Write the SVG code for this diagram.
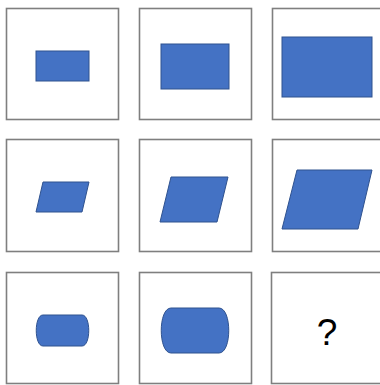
<svg xmlns="http://www.w3.org/2000/svg" width="380" height="385" viewBox="0 0 380 385">
<style>
.box{fill:#ffffff;stroke:#7f7f7f;stroke-width:1.6}
.shape{fill:#4472c4;stroke:#2f528f;stroke-width:1}
.q{font-family:"Liberation Sans",Arial,sans-serif;font-size:37px;fill:#000000;text-anchor:middle}
</style>
<rect x="0" y="0" width="380" height="385" fill="#ffffff"/>
<g id="cell-r1c1">
<rect class="box" x="6.5" y="8.5" width="112" height="111"/>
<rect class="shape" x="36" y="51" width="53" height="30"/>
</g>
<g id="cell-r1c2">
<rect class="box" x="139.5" y="8.5" width="112" height="111"/>
<rect class="shape" x="161" y="44" width="68" height="45"/>
</g>
<g id="cell-r1c3">
<rect class="box" x="272.5" y="8.5" width="112" height="111"/>
<rect class="shape" x="282" y="37" width="90" height="60"/>
</g>
<g id="cell-r2c1">
<rect class="box" x="6.5" y="139.5" width="112" height="112"/>
<polygon class="shape" points="43,182 89,182 82,212 36,212"/>
</g>
<g id="cell-r2c2">
<rect class="box" x="139.5" y="139.5" width="112" height="112"/>
<polygon class="shape" points="171,177 228,177 217,222 160,222"/>
</g>
<g id="cell-r2c3">
<rect class="box" x="272.5" y="139.5" width="112" height="112"/>
<polygon class="shape" points="297,170 372,170 358,229 282,229"/>
</g>
<g id="cell-r3c1">
<rect class="box" x="6.5" y="272.5" width="112" height="111"/>
<path class="shape" d="M43,315 H82 C91,315 91,346 82,346 H43 C34,346 34,315 43,315 Z"/>
</g>
<g id="cell-r3c2">
<rect class="box" x="139.5" y="272.5" width="112" height="111"/>
<path class="shape" d="M171,308 H219 C232,308 232,353 219,353 H171 C158,353 158,308 171,308 Z"/>
</g>
<g id="cell-r3c3">
<rect class="box" x="271.5" y="272.5" width="112" height="111"/>
<text class="q" x="327" y="345">?</text>
</g>
</svg>
